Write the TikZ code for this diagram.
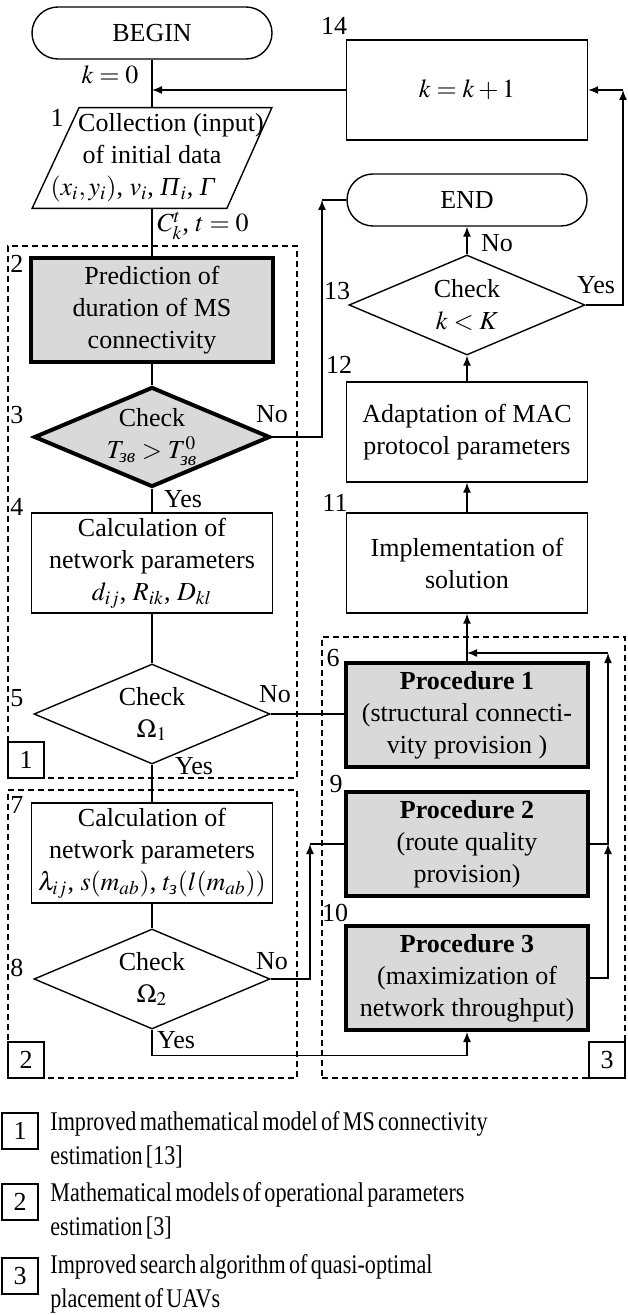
\documentclass[tikz,border=0pt]{standalone}
\usepackage{amsmath}
\usepackage{mathptmx}
\usepackage{fontspec}
\setmainfont{Liberation Serif}
\newfontfamily\legendfont{Liberation Serif}[FakeStretch=0.82, WordSpace=0.6]
\usetikzlibrary{shapes.geometric,arrows.meta,positioning,fit}
\tikzset{flow text/.style={font=\fontsize{13}{16}\selectfont, align=center}}
\tikzset{process node/.style={rectangle, draw, line width=0.7pt, flow text,
    minimum width=120.5pt, minimum height=50pt, inner sep=1pt}}
\tikzset{key process node/.style={process node, line width=2pt, fill=gray!30,
    minimum width=121pt, minimum height=52pt}}
\tikzset{terminal node/.style={rectangle, rounded corners=13pt, draw, line width=0.7pt,
    flow text, minimum width=120pt, minimum height=26pt}}
\tikzset{check node/.style={diamond, aspect=2.4, draw, line width=0.7pt, flow text,
    inner sep=0pt, minimum width=118pt, minimum height=50pt}}
\tikzset{key check node/.style={check node, line width=2pt, fill=gray!30}}
\tikzset{input node/.style={rectangle, flow text, minimum width=119.5pt, minimum height=50pt, inner sep=0pt}}
\tikzset{regular edge/.style={draw=black, line width=0.7pt}}
\tikzset{arrow edge/.style={regular edge, -{Latex[length=5pt,width=4pt]}}}
\tikzset{block number/.style={font=\fontsize{13}{15}\selectfont, inner sep=0pt}}
\tikzset{branch label/.style={font=\fontsize{13}{15}\selectfont, inner sep=0pt}}
\tikzset{group box/.style={draw, line width=0.6pt, dash pattern=on 3pt off 2pt, inner sep=0pt}}
\tikzset{group tag/.style={rectangle, draw, fill=white, line width=0.6pt, minimum size=18pt,
    inner sep=0pt, font=\fontsize{13}{15}\selectfont}}
\tikzset{legend text/.style={font=\legendfont\fontsize{13.5}{17}\selectfont, align=left, inner sep=0pt}}

\begin{document}
\begin{tikzpicture}[x=0.5pt, y=-0.5pt]
  \useasboundingbox (0,0) rectangle (627,1315);

  % dashed groups
  \node [group box, fit={(8,246) (297,778)}]   (g1) {};
  \node [group box, fit={(8,790) (297,1078)}]  (g2) {};
  \node [group box, fit={(322,637) (625,1078)}] (g3) {};

  % left column
  \node [terminal node]    (begin) at (152,  33) {BEGIN};
  \node [input node]       (box1)  at (152, 158) {\hspace*{19pt}Collection (input)\\of initial data\\$(x_i,y_i)$, $v_i$, \textit{Π}$_i$, \textit{Γ}\hspace*{19pt}};
  \draw [regular edge] ([xshift=23.5pt]box1.north west) -- (box1.north east)
    -- ([xshift=-22.5pt]box1.south east) -- (box1.south west) -- cycle;
  \node [key process node] (box2)  at (152, 310) {Prediction of\\duration of MS\\connectivity};
  \node [key check node]   (d3)    at (152, 437) {Check\\$T_{\text{\itshape зв}} > T^0_{\text{\itshape зв}}$};
  \node [process node]     (box4)  at (152, 563) {Calculation of\\network parameters\\$d_{ij}$, $R_{ik}$, $D_{kl}$};
  \node [check node]       (d5)    at (152, 714) {Check\\$\Omega_1$};
  \node [process node]     (box7)  at (152, 853) {Calculation of\\network parameters\\$\lambda_{ij}$, $s(m_{ab})$, $t_{\text{\itshape з}}(l(m_{ab}))$};
  \node [check node]       (d8)    at (152, 979) {Check\\$\Omega_2$};

  % right column
  \node [process node]     (box14) at (467,  90) {$k = k + 1$};
  \node [terminal node]    (end)   at (467, 200) {END};
  \node [check node]       (d13)   at (467, 305) {Check\\$k < K$};
  \node [process node]     (box12) at (467, 432) {Adaptation of MAC\\protocol parameters};
  \node [process node]     (box11) at (467, 563) {Implementation of\\solution};
  \node [key process node] (proc1) at (467, 715) {\textbf{Procedure 1}\\(structural connecti-\\vity provision )};
  \node [key process node] (proc2) at (467, 844) {\textbf{Procedure 2}\\(route quality\\provision)};
  \node [key process node] (proc3) at (467, 978) {\textbf{Procedure 3}\\(maximization of\\network throughput)};

  % group tags
  \node [group tag, anchor=south west] (tag1) at (g1.south west) {1};
  \node [group tag, anchor=south west] (tag2) at (g2.south west) {2};
  \node [group tag, anchor=south east] (tag3) at (g3.south east) {3};

  % block numbers
  \node [block number] (n1)  at ( 57, 118) {1};
  \node [block number] (n2)  at ( 17, 264) {2};
  \node [block number] (n3)  at ( 17, 415) {3};
  \node [block number] (n4)  at ( 17, 507) {4};
  \node [block number] (n5)  at ( 17, 698) {5};
  \node [block number] (n7)  at ( 17, 805) {7};
  \node [block number] (n8)  at ( 17, 968) {8};
  \node [block number] (n14) at (334,  26) {14};
  \node [block number] (n13) at (337, 291) {13};
  \node [block number] (n12) at (339, 365) {12};
  \node [block number] (n11) at (335, 503) {11};
  \node [block number] (n6)  at (333, 658) {6};
  \node [block number] (n9)  at (336, 784) {9};
  \node [block number] (n10) at (335, 913) {10};

  % main flow
  \draw [regular edge] (begin) -- (box1);
  \draw [regular edge] (box1) -- (box2);
  \draw [regular edge] (box2) -- (d3);
  \draw [regular edge] (d3) -- (box4);
  \draw [regular edge] (box4) -- (d5);
  \draw [regular edge] (d5) -- (box7);
  \draw [regular edge] (box7) -- (d8);
  \draw [regular edge] (d5.east) -- (d5.east -| proc1.west);

  \coordinate (c3) at (322, 200);
  \draw [arrow edge]   (d3.east) -| (c3);
  \draw [regular edge] (c3) -- (end.west);

  \coordinate (c8) at (310, 844);
  \draw [arrow edge]   (d8.east) -| (c8);
  \draw [regular edge] (c8) -- (proc2.west);
  \draw [arrow edge]   (d8.south) -- ++(0,26) -| (proc3.south);

  \coordinate (c6) at (608, 653);
  \draw [arrow edge] (proc3.east) -| (proc2.east -| c6);
  \draw [arrow edge] (proc2.east) -| (c6);
  \draw [arrow edge] (c6) -- (c6 -| proc1.north);

  \draw [arrow edge] (proc1) -- (box11);
  \draw [arrow edge] (box11) -- (box12);
  \draw [arrow edge] (box12) -- (d13);
  \draw [arrow edge] (d13) -- (end);

  \coordinate (c13) at (623, 90);
  \draw [arrow edge] (d13.east) -| (c13);
  \draw [arrow edge] (c13) -- (box14.east);
  \draw [arrow edge] (box14.west) -- (box14.west -| begin.south);

  % branch labels
  \node [branch label] (k0)    at (110,  75) {$k = 0$};
  \node [branch label] (ckt)   at (203, 226) {$C^t_k$, $t = 0$};
  \node [branch label] (no3)   at (272, 414) {No};
  \node [branch label] (yes3)  at (183, 499) {Yes};
  \node [branch label] (no5)   at (275, 694) {No};
  \node [branch label] (yes5)  at (194, 766) {Yes};
  \node [branch label] (no8)   at (272, 961) {No};
  \node [branch label] (yes8)  at (176, 1040) {Yes};
  \node [branch label] (no13)  at (497, 243) {No};
  \node [branch label] (yes13) at (596, 285) {Yes};

  % legend
  \node [group tag]                 (key1)     at (20, 1131) {1};
  \node [legend text, anchor=west]  (key1text) at (50, 1140) {Improved mathematical model of MS connectivity\\estimation [13]};
  \node [group tag]                 (key2)     at (20, 1202) {2};
  \node [legend text, anchor=west]  (key2text) at (50, 1211) {Mathematical models of operational parameters\\estimation [3]};
  \node [group tag]                 (key3)     at (20, 1276) {3};
  \node [legend text, anchor=west]  (key3text) at (50, 1284) {Improved search algorithm of quasi-optimal\\placement of UAVs};
\end{tikzpicture}
\end{document}
